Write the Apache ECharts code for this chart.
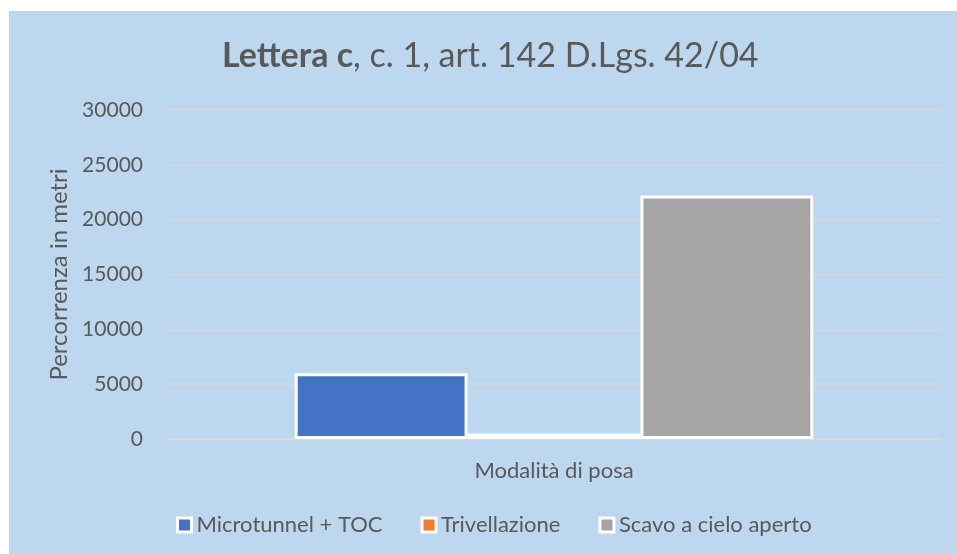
<!DOCTYPE html>
<html>
<head>
<meta charset="utf-8">
<script src="https://cdn.jsdelivr.net/npm/echarts@6/dist/echarts.min.js"></script>
<style>
  html, body { margin: 0; padding: 0; background: #fff; }
  .frame {
    position: absolute; left: 9px; top: 11px;
    width: 948px; height: 543px;
    border-left: 1px solid #d0d0d0; border-top: 1px solid #d0d0d0;
    background: #BDD7EE;
  }
  #chart { width: 948px; height: 543px; }
</style>
</head>
<body>
<div class="frame"><div id="chart"></div></div>
<script>
// dati
var categories = ['Modalità di posa'];
var seriesNames = ['Microtunnel + TOC', 'Trivellazione', 'Scavo a cielo aperto'];
var microtunnel = [6000];
var trivellazione = [500];
var scavo = [22200];
var colors = ['#4472C4', '#ED7D31', '#A5A5A5'];

var txt = '#595959';
var font = 'Lato, "Open Sans", sans-serif';

var chart = echarts.init(document.getElementById('chart'));

function bar(name, data, i) {
  return {
    name: name,
    type: 'bar',
    data: data,
    barGap: '0%',
    barCategoryGap: '33%',
    itemStyle: { color: colors[i], borderColor: '#ffffff', borderWidth: 3 }
  };
}

chart.setOption({
  backgroundColor: 'transparent',
  textStyle: { fontFamily: font, color: txt },
  animation: false,
  title: {
    text: '{b|Lettera c}, c. 1, art. 142 D.Lgs. 42/04',
    left: 207,
    top: 22,
    textStyle: {
      fontFamily: font, fontSize: 34, color: txt, fontWeight: 'normal',
      rich: { b: { fontFamily: font, fontSize: 34, color: txt, fontWeight: 'bold' } }
    }
  },
  legend: {
    data: seriesNames,
    left: 161,
    top: 497,
    itemWidth: 14,
    itemHeight: 14,
    itemGap: 38,
    icon: 'rect',
    textStyle: { fontFamily: font, fontSize: 22, color: txt },
    itemStyle: { borderColor: '#ffffff', borderWidth: 3 }
  },
  grid: { left: 157, right: 17, top: 98, bottom: 116, containLabel: false },
  xAxis: {
    type: 'category',
    data: categories,
    axisLine: { lineStyle: { color: '#d9d9d9', width: 1.5 } },
    axisTick: { show: true, length: 5, lineStyle: { color: '#d9d9d9' } },
    axisLabel: { fontFamily: font, fontSize: 22, color: txt, margin: 21 }
  },
  yAxis: {
    type: 'value',
    min: 0, max: 30000, interval: 5000,
    name: 'Percorrenza in metri',
    nameLocation: 'middle',
    nameGap: 92,
    nameTextStyle: { fontFamily: font, fontSize: 24, color: txt },
    axisLine: { show: false },
    axisTick: { show: false },
    axisLabel: {
      fontFamily: font, fontSize: 21, color: txt, margin: 24,
      formatter: function (v) { return String(v); }
    },
    splitLine: { lineStyle: { color: '#d9d9d9', width: 1.5 } }
  },
  series: [
    bar(seriesNames[0], microtunnel, 0),
    bar(seriesNames[1], trivellazione, 1),
    bar(seriesNames[2], scavo, 2)
  ]
});
</script>
</body>
</html>
